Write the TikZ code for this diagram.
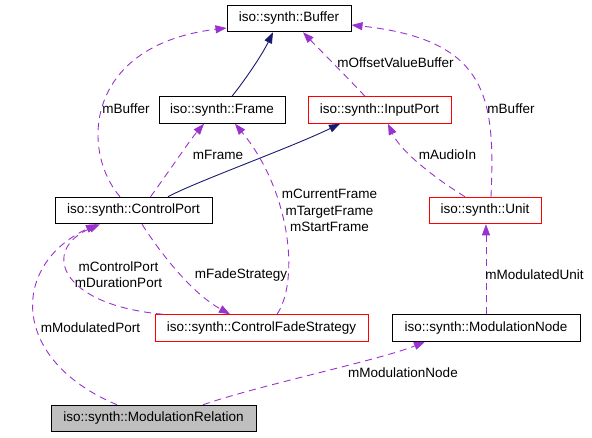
\documentclass[tikz,border=0pt]{standalone}
\usepackage{fontspec}
\setmainfont{Liberation Sans}
\usetikzlibrary{arrows.meta}
\definecolor{edgepurple}{HTML}{9A32CD}
\definecolor{navyedge}{HTML}{191970}
\definecolor{boxgray}{HTML}{BFBFBF}
\begin{document}
\begin{tikzpicture}[x=1pt,y=-1pt,
  font=\fontsize{13.5}{16.5}\selectfont,
  cls/.style={draw=black, line width=1pt, inner sep=0pt, minimum height=26.5pt, fill=white},
  redcls/.style={cls, draw=red},
  graycls/.style={cls, fill=boxgray},
  lbl/.style={inner sep=0pt, align=center},
  usage/.style={draw=edgepurple, line width=0.9pt, dash pattern=on 7pt off 5pt,
    -{Triangle[length=11pt,width=8pt,fill=edgepurple]}},
  inherit/.style={draw=navyedge, line width=0.9pt,
    -{Triangle[length=11pt,width=8pt,fill=navyedge]}}]
\useasboundingbox (0,0) rectangle (592,437);

% classes
\node[cls, minimum width=124pt] (buffer) at (289,18.5) {iso::synth::Buffer};
\node[cls, minimum width=126pt] (frame) at (222,110) {iso::synth::Frame};
\node[redcls, minimum width=143pt] (inputport) at (379.5,110) {iso::synth::InputPort};
\node[cls, minimum width=157pt] (controlport) at (133.5,210.5) {iso::synth::ControlPort};
\node[redcls, minimum width=112pt] (unit) at (485,210.5) {iso::synth::Unit};
\node[redcls, minimum width=213pt] (cfs) at (261.5,328) {iso::synth::ControlFadeStrategy};
\node[cls, minimum width=188pt] (modnode) at (486,328) {iso::synth::ModulationNode};
\node[graycls, minimum width=205pt] (modrel) at (153.5,418.5) {iso::synth::ModulationRelation};

% inheritance
\draw[inherit] ([xshift=10pt]frame.north) .. controls (245,80) and (262,55) .. ([xshift=-16pt]buffer.south);
\draw[inherit] ([xshift=34.5pt]controlport.north) .. controls (195,182) and (290,148) .. ([xshift=-39.5pt]inputport.south);

% usage
\draw[usage] ([xshift=-13.5pt]controlport.north) .. controls (80,150) and (85,45) .. ([yshift=-9.5pt]buffer.west);
\draw[usage] ([xshift=17pt]controlport.north) .. controls (170,170) and (190,140) .. ([xshift=-18pt]frame.south);
\draw[usage] ([xshift=15.5pt]cfs.north) .. controls (300,280) and (290,190) .. ([xshift=13pt]frame.south);
\draw[usage] ([xshift=-14.5pt]inputport.north) .. controls (345,75) and (320,50) .. ([xshift=14pt]buffer.south);
\draw[usage] ([xshift=6pt]unit.north) .. controls (495,100) and (490,40) .. ([yshift=-6.5pt]buffer.east);
\draw[usage] ([xshift=-20pt]unit.north) .. controls (430,175) and (400,150) .. ([xshift=8.5pt]inputport.south);
\draw[usage] ([xshift=8.5pt]controlport.south) .. controls (165,260) and (195,295) .. ([xshift=-31.5pt]cfs.north);
\draw[usage] ([xshift=-98.5pt]cfs.north) .. controls (60,305) and (40,250) .. ([xshift=-33.5pt]controlport.south);
\draw[usage] ([xshift=-36.5pt]modrel.north) .. controls (10,360) and (10,265) .. ([xshift=-36.5pt]controlport.south);
\draw[usage] ([xshift=49.5pt]modrel.north) .. controls (260,385) and (380,360) .. ([xshift=-61pt]modnode.south);
\draw[usage] (modnode.north) -- (unit.south -| modnode.north);

% labels
\node[lbl] (lbuf1) at (126,109) {mBuffer};
\node[lbl] (lframe) at (218,155) {mFrame};
\node[lbl] (lframes) at (329.5,210.5) {mCurrentFrame\\mTargetFrame\\mStartFrame};
\node[lbl] (loffset) at (395.5,63) {mOffsetValueBuffer};
\node[lbl] (lbuf2) at (511,109) {mBuffer};
\node[lbl] (laudio) at (447.5,155) {mAudioIn};
\node[lbl] (lports) at (118.5,274.5) {mControlPort\\mDurationPort};
\node[lbl] (lfade) at (241,275) {mFadeStrategy};
\node[lbl] (lmodport) at (90.5,328) {mModulatedPort};
\node[lbl] (lmodunit) at (534.5,275) {mModulatedUnit};
\node[lbl] (lmodnode) at (403,373) {mModulationNode};
\end{tikzpicture}
\end{document}
